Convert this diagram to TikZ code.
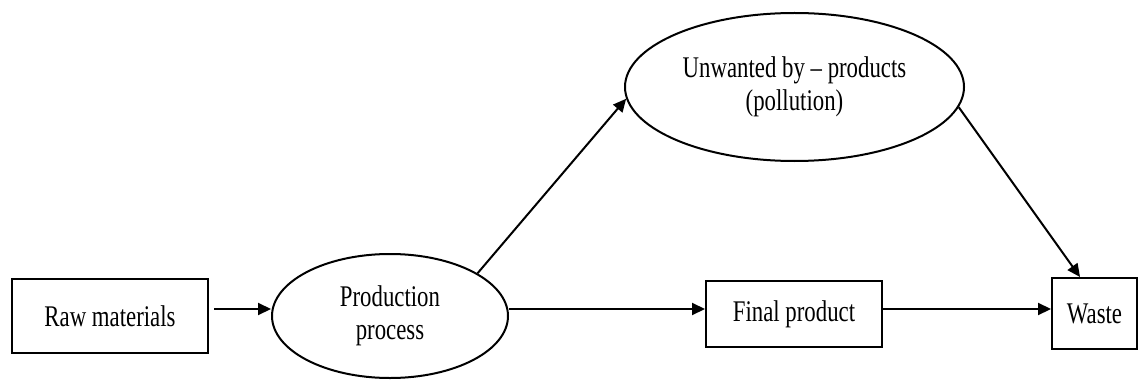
\documentclass[tikz,border=0pt]{standalone}
\usepackage{fontspec}
\setmainfont{Liberation Serif}[FakeStretch=0.76]
\usetikzlibrary{shapes.geometric,arrows.meta}
\begin{document}
\begin{tikzpicture}[x=1pt,y=-1pt,
  every node/.style={font=\fontsize{30}{33}\selectfont, align=center, inner sep=0pt, line width=2pt},
  boxnode/.style={draw, rectangle},
  ovalnode/.style={draw, ellipse},
  arr/.style={-{Triangle[length=13pt,width=12pt]}, line width=2pt}]
  \useasboundingbox (0,0) rectangle (1139,385);

  % process stages
  \node[boxnode, minimum width=196pt, minimum height=74pt] (raw) at (110,316) {Raw materials};
  \node[ovalnode, minimum width=236pt, minimum height=124pt] (prod) at (390,316) {Production\\process};
  \node[boxnode, minimum width=176pt, minimum height=66pt] (final) at (794,314) {Final product};
  \node[boxnode, minimum width=85pt, minimum height=71pt] (waste) at (1094.5,313.5) {Waste};
  \node[ovalnode, minimum width=339pt, minimum height=148pt] (unw) at (794.5,87) {Unwanted by -- products\\(pollution)};

  % flows
  \draw[arr] ([xshift=5pt,yshift=7pt]raw.east) -- ([yshift=7pt]prod.west);
  \draw[arr] ([yshift=7pt]prod.east) -- ([yshift=5pt]final.west);
  \draw[arr] ([yshift=5pt]final.east) -- ([yshift=4.5pt]waste.west);
  \draw[arr] (prod.26) -- (unw.184);
  \draw[arr] (unw.-7) -- ([xshift=-14.5pt]waste.north);
\end{tikzpicture}
\end{document}
